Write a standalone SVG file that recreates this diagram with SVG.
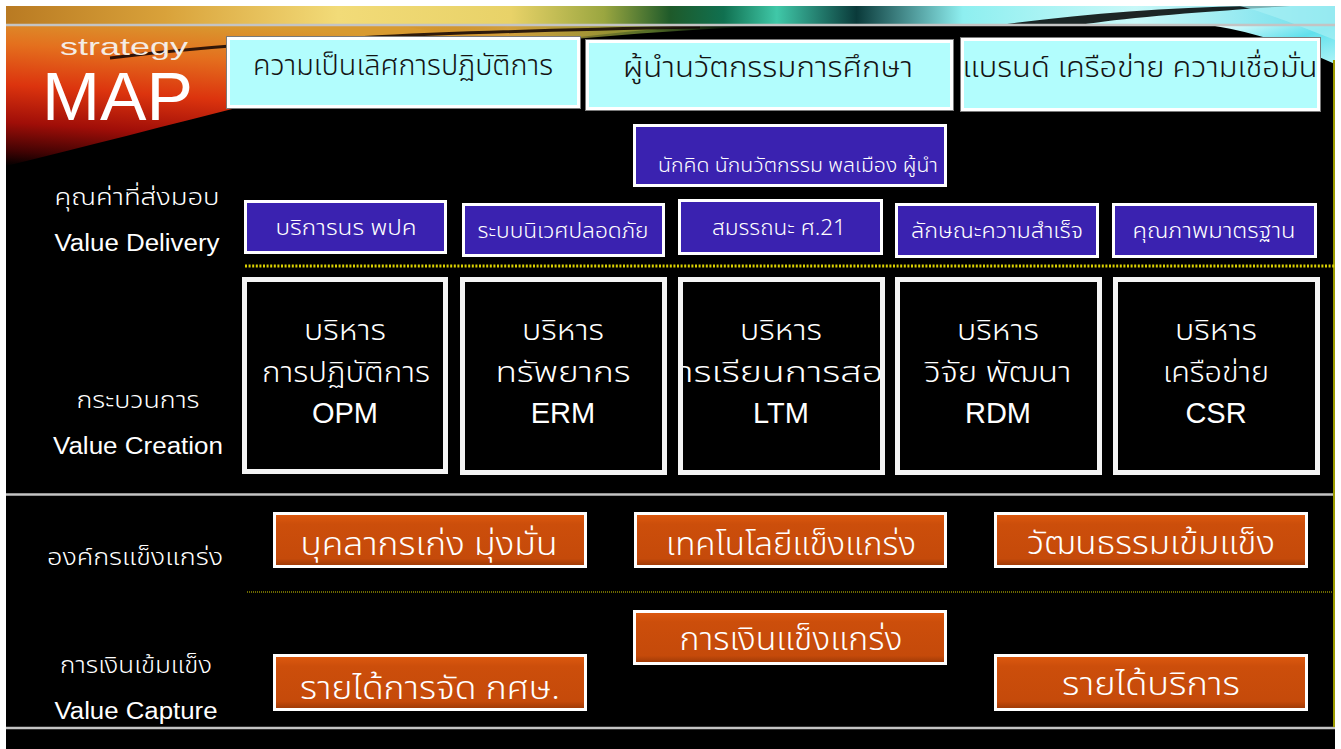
<svg xmlns="http://www.w3.org/2000/svg" width="1341" height="749" viewBox="0 0 1341 749">
<defs>
<linearGradient id="topband" x1="0" y1="0" x2="1" y2="0">
<stop offset="0" stop-color="#B97A22"/>
<stop offset="0.12" stop-color="#D9A23A"/>
<stop offset="0.25" stop-color="#F2DB78"/>
<stop offset="0.38" stop-color="#E8D268"/>
<stop offset="0.45" stop-color="#9AA640"/>
<stop offset="0.5" stop-color="#1E5A2A"/>
<stop offset="0.54" stop-color="#107050"/>
<stop offset="0.58" stop-color="#40C8A8"/>
<stop offset="0.64" stop-color="#0A3A3A"/>
<stop offset="0.72" stop-color="#8EEFF0"/>
<stop offset="0.85" stop-color="#C8F8F8"/>
<stop offset="1" stop-color="#6ADDEB"/>
</linearGradient>
<linearGradient id="redswoosh" x1="0.35" y1="0" x2="0" y2="1">
<stop offset="0" stop-color="#D89A30"/>
<stop offset="0.22" stop-color="#E4701E"/>
<stop offset="0.48" stop-color="#DC340E"/>
<stop offset="0.72" stop-color="#A00E08"/>
<stop offset="0.9" stop-color="#420303"/>
<stop offset="1" stop-color="#000000"/>
</linearGradient>
<linearGradient id="tailswoosh" x1="0" y1="0" x2="1" y2="0">
<stop offset="0" stop-color="#C08020" stop-opacity="0"/>
<stop offset="0.3" stop-color="#D0A040"/>
<stop offset="0.7" stop-color="#6A8A30"/>
<stop offset="1" stop-color="#0A3A20" stop-opacity="0"/>
</linearGradient>
<linearGradient id="cyanswoosh" x1="0" y1="0" x2="1" y2="1">
<stop offset="0" stop-color="#E8FFFF"/>
<stop offset="0.5" stop-color="#60E0EC"/>
<stop offset="1" stop-color="#B0F4F8"/>
</linearGradient>
<linearGradient id="og" x1="0" y1="0" x2="0" y2="1">
<stop offset="0" stop-color="#DE5A10"/>
<stop offset="0.2" stop-color="#CC4E0B"/>
<stop offset="0.85" stop-color="#C54A0A"/>
<stop offset="1" stop-color="#9A3806"/>
</linearGradient>
<clipPath id="clipLTM"><rect x="683" y="282" width="197" height="187"/></clipPath>
<style>
.th{font-family:"Noto Sans Thai","Noto Sans","DejaVu Sans",sans-serif;font-weight:300}
.en{font-family:"Liberation Sans",Arial,sans-serif}
.cyan{fill:#B2FDFD;stroke:#ffffff;stroke-width:3}
.edge{fill:none;stroke:#7a7a7a;stroke-width:1}
.purple{fill:#3A22B0;stroke:#ffffff;stroke-width:3}
.proc{fill:#000000;stroke:#f4f4f4;stroke-width:5}
.orange{fill:url(#og);stroke:#ffffff;stroke-width:3}
.tdark{fill:#141414;font-size:28px}
.tpur{fill:#ffffff;font-size:21px}
.tproc{fill:#ffffff;font-size:29px}
.tor{fill:#ffffff;font-size:32px}
.lbl{fill:#ffffff;font-size:23px}
.mid{text-anchor:middle}
.grey{stroke:#C4C4C4;stroke-width:2.5}
</style>
</defs>

<!-- page and background -->
<rect x="0" y="0" width="1341" height="749" fill="#ffffff"/>
<rect x="6" y="6" width="1329" height="743" fill="#000000"/>
<rect x="6" y="6" width="1329" height="19" fill="url(#topband)"/>
<path d="M1000,25 C1080,14 1160,8 1250,6 L1290,6 C1200,12 1120,18 1080,25 Z" fill="#000000" opacity="0.85"/>
<path d="M6,26 L700,26 C600,32 480,48 380,72 C250,104 120,138 6,166 Z" fill="url(#redswoosh)"/>
<path d="M400,26 L760,26 C680,30 600,36 520,44 C480,40 440,32 400,26 Z" fill="url(#tailswoosh)" opacity="0.8"/>
<path d="M110,58 C260,40 430,32 700,27" fill="none" stroke="#120404" stroke-width="3" opacity="0.85"/>
<path d="M1215,26 L1335,26 L1335,64 C1300,48 1262,34 1215,26 Z" fill="url(#cyanswoosh)"/>
<path d="M1240,6 L1335,6 L1335,40 C1300,26 1270,14 1240,6 Z" fill="#A8F0F4" opacity="0.7"/>

<!-- rules and dividers -->
<g id="dividers">
<line class="grey" x1="6" y1="25" x2="1335" y2="25"/>
<line class="grey" x1="6" y1="494.5" x2="1335" y2="494.5"/>
<line class="grey" x1="6" y1="728" x2="1335" y2="728"/>
<line x1="1334" y1="60" x2="1334" y2="727" stroke="#9C9A00" stroke-width="2"/>
<line x1="245" y1="266" x2="1335" y2="266" stroke="#DCD200" stroke-width="3" stroke-dasharray="2 1.6"/>
<line x1="247" y1="592" x2="1335" y2="592" stroke="#8E8A00" stroke-width="1.6" stroke-dasharray="1 1"/>
</g>

<g id="connectors"></g>

<!-- title -->
<g id="title">
<text class="en" x="60" y="55" font-size="24" fill="#F4ECE4" textLength="128" lengthAdjust="spacingAndGlyphs">strategy</text>
<text class="en" x="42" y="120" font-size="68" fill="#ffffff" textLength="151" lengthAdjust="spacingAndGlyphs">MAP</text>
</g>

<!-- row labels -->
<g id="label-value-delivery">
<text class="th lbl mid" x="137" y="205" textLength="165" lengthAdjust="spacingAndGlyphs">คุณค่าที่ส่งมอบ</text>
<text class="en lbl mid" x="137" y="251" textLength="165" lengthAdjust="spacingAndGlyphs">Value Delivery</text>
</g>
<g id="label-value-creation">
<text class="th lbl mid" x="138" y="408" textLength="123" lengthAdjust="spacingAndGlyphs">กระบวนการ</text>
<text class="en lbl mid" x="138" y="454" textLength="170" lengthAdjust="spacingAndGlyphs">Value Creation</text>
</g>
<g id="label-strong-org">
<text class="th lbl mid" x="135" y="565" textLength="176" lengthAdjust="spacingAndGlyphs">องค์กรแข็งแกร่ง</text>
</g>
<g id="label-value-capture">
<text class="th lbl mid" x="136" y="673" textLength="152" lengthAdjust="spacingAndGlyphs">การเงินเข้มแข็ง</text>
<text class="en lbl mid" x="136" y="719" textLength="163" lengthAdjust="spacingAndGlyphs">Value Capture</text>
</g>

<!-- top cyan goals -->
<g id="goal-excellence">
<rect class="edge" x="226.5" y="36.5" width="354" height="72"/>
<rect class="cyan" x="228.5" y="38.5" width="350" height="68"/>
<text class="th tdark mid" x="403" y="75" textLength="300" lengthAdjust="spacingAndGlyphs">ความเป็นเลิศการปฏิบัติการ</text>
</g>
<g id="goal-innovation">
<rect class="edge" x="585.5" y="39.5" width="368" height="71"/>
<rect class="cyan" x="587.5" y="41.5" width="364" height="67"/>
<text class="th tdark mid" x="768" y="77" textLength="290" lengthAdjust="spacingAndGlyphs">ผู้นำนวัตกรรมการศึกษา</text>
</g>
<g id="goal-brand">
<rect class="edge" x="960.5" y="37.5" width="360" height="74"/>
<rect class="cyan" x="962.5" y="39.5" width="356" height="70"/>
<text class="th tdark mid" x="1140" y="77" textLength="355" lengthAdjust="spacingAndGlyphs">แบรนด์ เครือข่าย ความเชื่อมั่น</text>
</g>

<!-- purple value boxes -->
<g id="value-leaders">
<rect class="purple" x="634.5" y="125.5" width="311" height="60"/>
<text class="th mid" x="798" y="172" fill="#ffffff" font-size="19" textLength="280" lengthAdjust="spacingAndGlyphs">นักคิด นักนวัตกรรม พลเมือง ผู้นำ</text>
</g>
<g id="value-student-service">
<rect class="purple" x="245.5" y="201.5" width="200" height="51"/>
<text class="th tpur mid" x="346" y="235" textLength="141" lengthAdjust="spacingAndGlyphs">บริการนร พปค</text>
</g>
<g id="value-safe-ecosystem">
<rect class="purple" x="463.5" y="204.5" width="200" height="51"/>
<text class="th tpur mid" x="563" y="238" textLength="171" lengthAdjust="spacingAndGlyphs">ระบบนิเวศปลอดภัย</text>
</g>
<g id="value-21st-skills">
<rect class="purple" x="679.5" y="200.5" width="202" height="53"/>
<text class="th tpur mid" x="779" y="235" textLength="134" lengthAdjust="spacingAndGlyphs">สมรรถนะ ศ.21</text>
</g>
<g id="value-success">
<rect class="purple" x="896.5" y="204.5" width="201" height="52"/>
<text class="th tpur mid" x="997" y="238" textLength="172" lengthAdjust="spacingAndGlyphs">ลักษณะความสำเร็จ</text>
</g>
<g id="value-quality">
<rect class="purple" x="1113.5" y="204.5" width="202" height="52"/>
<text class="th tpur mid" x="1214" y="238" textLength="163" lengthAdjust="spacingAndGlyphs">คุณภาพมาตรฐาน</text>
</g>

<!-- process boxes -->
<g id="process-opm">
<rect class="proc" x="244.5" y="279.5" width="201" height="192"/>
<text class="th tproc mid" x="345" y="340" textLength="82" lengthAdjust="spacingAndGlyphs">บริหาร</text>
<text class="th tproc mid" x="346" y="382" textLength="168" lengthAdjust="spacingAndGlyphs">การปฏิบัติการ</text>
<text class="en tproc mid" x="345" y="423">OPM</text>
</g>
<g id="process-erm">
<rect class="proc" x="462.5" y="279.5" width="202" height="193"/>
<text class="th tproc mid" x="563" y="340" textLength="82" lengthAdjust="spacingAndGlyphs">บริหาร</text>
<text class="th tproc mid" x="563" y="382" textLength="135" lengthAdjust="spacingAndGlyphs">ทรัพยากร</text>
<text class="en tproc mid" x="563" y="423">ERM</text>
</g>
<g id="process-ltm">
<rect class="proc" x="680.5" y="279.5" width="202" height="193"/>
<text class="th tproc mid" x="781" y="340" textLength="82" lengthAdjust="spacingAndGlyphs">บริหาร</text>
<text class="th tproc mid" x="781" y="382" textLength="250" lengthAdjust="spacingAndGlyphs" clip-path="url(#clipLTM)">การเรียนการสอน</text>
<text class="en tproc mid" x="781" y="423">LTM</text>
</g>
<g id="process-rdm">
<rect class="proc" x="897.5" y="279.5" width="202" height="193"/>
<text class="th tproc mid" x="998" y="340" textLength="82" lengthAdjust="spacingAndGlyphs">บริหาร</text>
<text class="th tproc mid" x="998" y="382" textLength="147" lengthAdjust="spacingAndGlyphs">วิจัย พัฒนา</text>
<text class="en tproc mid" x="998" y="423">RDM</text>
</g>
<g id="process-csr">
<rect class="proc" x="1115.5" y="279.5" width="202" height="193"/>
<text class="th tproc mid" x="1216" y="340" textLength="82" lengthAdjust="spacingAndGlyphs">บริหาร</text>
<text class="th tproc mid" x="1216" y="382" textLength="106" lengthAdjust="spacingAndGlyphs">เครือข่าย</text>
<text class="en tproc mid" x="1216" y="423">CSR</text>
</g>

<!-- orange foundation boxes -->
<g id="org-people">
<rect class="orange" x="274.5" y="513.5" width="311" height="53"/>
<text class="th tor mid" x="429" y="555" textLength="257" lengthAdjust="spacingAndGlyphs">บุคลากรเก่ง มุ่งมั่น</text>
</g>
<g id="org-technology">
<rect class="orange" x="635.5" y="513.5" width="310" height="53"/>
<text class="th tor mid" x="791" y="555" textLength="250" lengthAdjust="spacingAndGlyphs">เทคโนโลยีแข็งแกร่ง</text>
</g>
<g id="org-culture">
<rect class="orange" x="995.5" y="513.5" width="311" height="53"/>
<text class="th tor mid" x="1151" y="554" textLength="248" lengthAdjust="spacingAndGlyphs">วัฒนธรรมเข้มแข็ง</text>
</g>
<g id="finance-strong">
<rect class="orange" x="634.5" y="611.5" width="311" height="52"/>
<text class="th tor mid" x="791" y="650" textLength="223" lengthAdjust="spacingAndGlyphs">การเงินแข็งแกร่ง</text>
</g>
<g id="finance-education-income">
<rect class="orange" x="274.5" y="655.5" width="311" height="54"/>
<text class="th tor mid" x="430" y="699" textLength="260" lengthAdjust="spacingAndGlyphs">รายได้การจัด กศษ.</text>
</g>
<g id="finance-service-income">
<rect class="orange" x="995.5" y="655.5" width="311" height="54"/>
<text class="th tor mid" x="1151" y="695" textLength="178" lengthAdjust="spacingAndGlyphs">รายได้บริการ</text>
</g>
</svg>
